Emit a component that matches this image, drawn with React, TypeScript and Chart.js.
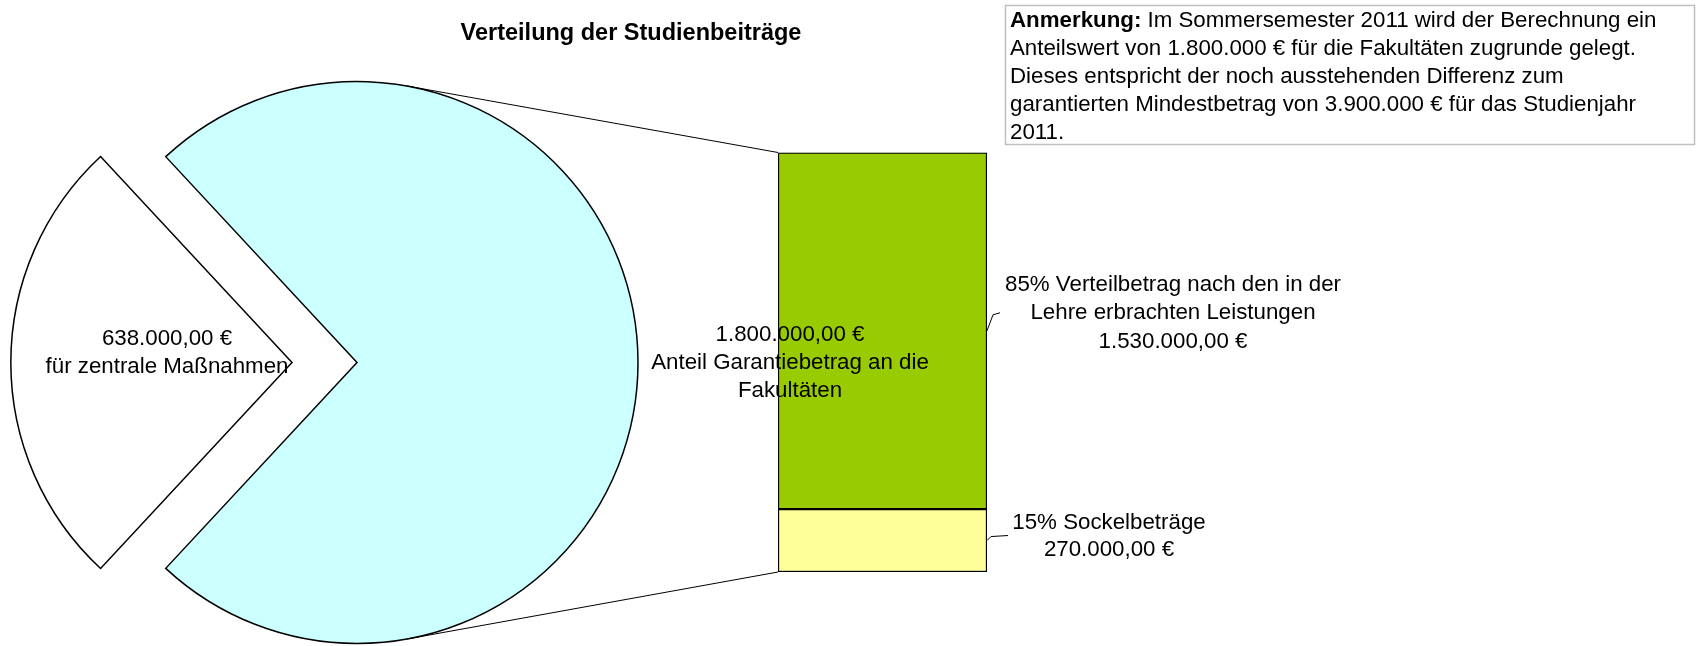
import React, { useEffect, useRef } from "react";
import { Chart, registerables } from "chart.js";

Chart.register(...registerables);

const chartTitle = "Verteilung der Studienbeiträge";
const pieLabels = ["Anteil Garantiebetrag an die Fakultäten", "für zentrale Maßnahmen"];
const pieValues = [1800000, 638000];
const pieColors = ["#CCFFFF", "#FFFFFF"];
const barLabels = ["15% Sockelbeträge", "85% Verteilbetrag nach den in der Lehre erbrachten Leistungen"];
const barValues = [270000, 1530000];
const barColors = ["#FFFF99", "#99CC00"];
const noteBold = "Anmerkung:";
const noteLines = [
  " Im Sommersemester 2011 wird der Berechnung ein",
  "Anteilswert von 1.800.000 € für die Fakultäten zugrunde gelegt.",
  "Dieses entspricht der noch ausstehenden Differenz zum",
  "garantierten Mindestbetrag von 3.900.000 € für das Studienjahr",
  "2011.",
];

const FAMILY = '"Liberation Sans", Arial, Helvetica, sans-serif';
const FS = 22.3;
const W = 1696;
const H = 646;

function fmtEuro(v: number): string {
  const fixed = v.toFixed(2);
  const [intPart, dec] = fixed.split(".");
  const grouped = intPart.replace(/\B(?=(\d{3})+(?!\d))/g, ".");
  return grouped + "," + dec + " €";
}

function tangentPoint(cx: number, cy: number, r: number, px: number, py: number, sign: number) {
  const dx = px - cx;
  const dy = py - cy;
  const d = Math.sqrt(dx * dx + dy * dy);
  const base = Math.atan2(dy, dx);
  const a = base + sign * Math.acos(Math.min(1, r / d));
  return { x: cx + r * Math.cos(a), y: cy + r * Math.sin(a) };
}

export default function App() {
  const pieRef = useRef<HTMLCanvasElement | null>(null);
  const barRef = useRef<HTMLCanvasElement | null>(null);

  useEffect(() => {
    if (!pieRef.current || !barRef.current) return;
    const total = pieValues.reduce((a, b) => a + b, 0);
    const cyanSweep = (pieValues[0] / total) * 360;

    const pie = new Chart(pieRef.current, {
      type: "pie",
      data: {
        labels: pieLabels,
        datasets: [
          {
            data: pieValues,
            backgroundColor: pieColors,
            borderColor: "#000000",
            borderWidth: 1.5,
            borderJoinStyle: "miter",
            offset: [0, 260],
          } as any,
        ],
      },
      options: {
        responsive: false,
        animation: false,
        events: [],
        rotation: 90 - cyanSweep / 2,
        radius: 281,
        layout: { padding: { left: 76, right: W - 638, top: 81.5, bottom: H - 643.5 } },
        plugins: { legend: { display: false }, tooltip: { enabled: false }, title: { display: false } },
      } as any,
    });

    const overlay = {
      id: "overlay",
      afterDatasetsDraw(chart: any) {
        const ctx = chart.ctx as CanvasRenderingContext2D;
        const arc: any = pie.getDatasetMeta(0).data[0];
        const cx = arc.x;
        const cy = arc.y;
        const r = arc.outerRadius;
        const yellow: any = chart.getDatasetMeta(0).data[0];
        const green: any = chart.getDatasetMeta(1).data[0];
        const left = yellow.x - yellow.width / 2;
        const right = yellow.x + yellow.width / 2;
        const top = green.y;
        const bottom = yellow.base;
        const mid = yellow.y;

        ctx.save();
        // connector lines (tangents from pie to bar corners)
        ctx.strokeStyle = "#000";
        ctx.lineWidth = 1;
        const tTop = tangentPoint(cx, cy, r, left, top, -1);
        const tBot = tangentPoint(cx, cy, r, left, bottom, 1);
        ctx.beginPath();
        ctx.moveTo(tTop.x, tTop.y);
        ctx.lineTo(left, top);
        ctx.moveTo(tBot.x, tBot.y);
        ctx.lineTo(left, bottom);
        ctx.stroke();

        // leader lines
        const gMid = (top + mid) / 2;
        const yMid = (mid + bottom) / 2;
        ctx.beginPath();
        ctx.moveTo(right, gMid);
        ctx.lineTo(right + 6, gMid - 16);
        ctx.lineTo(right + 13, gMid - 18);
        ctx.moveTo(right, yMid);
        ctx.lineTo(right + 4, yMid - 4);
        ctx.lineTo(right + 21, yMid - 5);
        ctx.stroke();

        ctx.fillStyle = "#000";
        ctx.textBaseline = "middle";
        ctx.textAlign = "center";

        // title
        ctx.font = `bold 23.5px ${FAMILY}`;
        ctx.fillText(chartTitle, 631, 34);

        ctx.font = `${FS}px ${FAMILY}`;
        // pie labels
        const cyanLines = [fmtEuro(pieValues[0]), "Anteil Garantiebetrag an die", "Fakultäten"];
        cyanLines.forEach((t, i) => ctx.fillText(t, cx + 433, cy - 28 + i * 28));
        const whiteLines = [fmtEuro(pieValues[1]), pieLabels[1]];
        whiteLines.forEach((t, i) => ctx.fillText(t, cx - 190, cy - 24 + i * 28));

        // bar labels
        const greenLines = ["85% Verteilbetrag nach den in der", "Lehre erbrachten Leistungen", fmtEuro(barValues[1])];
        greenLines.forEach((t, i) => ctx.fillText(t, right + 186, gMid - 46 + i * 28.3));
        const yellowLines = [barLabels[0], fmtEuro(barValues[0])];
        yellowLines.forEach((t, i) => ctx.fillText(t, right + 122, yMid - 18 + i * 27));

        // annotation box
        ctx.strokeStyle = "#C0C0C0";
        ctx.lineWidth = 1.5;
        ctx.strokeRect(1005.5, 5.5, 689, 139);
        ctx.textAlign = "left";
        const tx = 1010;
        ctx.font = `bold ${FS}px ${FAMILY}`;
        ctx.fillText(noteBold, tx, 21);
        const bw = ctx.measureText(noteBold).width;
        ctx.font = `${FS}px ${FAMILY}`;
        noteLines.forEach((t, i) => ctx.fillText(t, i === 0 ? tx + bw : tx, 21 + i * 28));
        ctx.restore();
      },
    };

    const bar = new Chart(barRef.current, {
      type: "bar",
      data: {
        labels: [""],
        datasets: barValues.map((v, i) => ({
          label: barLabels[i],
          data: [v],
          backgroundColor: barColors[i],
          borderColor: "#000000",
          borderWidth: 1.5,
          borderSkipped: false,
          barPercentage: 1,
          categoryPercentage: 1,
        })),
      },
      options: {
        responsive: false,
        animation: false,
        events: [],
        layout: { padding: { left: 778, right: W - 987, top: 152.5, bottom: H - 572 } },
        scales: {
          x: { display: false, stacked: true },
          y: { display: false, stacked: true, min: 0, max: barValues.reduce((a, b) => a + b, 0) },
        },
        plugins: { legend: { display: false }, tooltip: { enabled: false }, title: { display: false } },
      } as any,
      plugins: [overlay],
    });

    return () => {
      bar.destroy();
      pie.destroy();
    };
  }, []);

  return (
    <div style={{ position: "absolute", left: 0, top: 0, width: W, height: H, background: "#fff" }}>
      <canvas ref={pieRef} width={W} height={H} style={{ position: "absolute", left: 0, top: 0 }} />
      <canvas ref={barRef} width={W} height={H} style={{ position: "absolute", left: 0, top: 0, pointerEvents: "none" }} />
    </div>
  );
}
